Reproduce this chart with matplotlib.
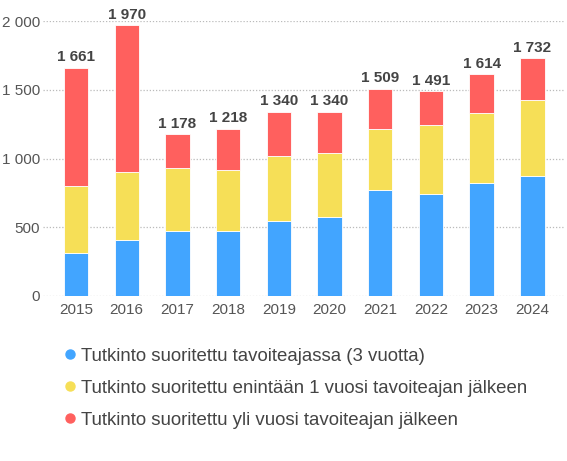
import matplotlib
matplotlib.use("Agg")
import matplotlib.pyplot as plt
from matplotlib.lines import Line2D
import numpy as np

plt.rcParams['font.family'] = ['Liberation Sans', 'DejaVu Sans']

years = ["2015", "2016", "2017", "2018", "2019", "2020", "2021", "2022", "2023", "2024"]
on_time = [315, 407, 475, 470, 548, 575, 773, 740, 822, 873]
within_1y = [487, 497, 456, 444, 473, 463, 442, 501, 510, 555]
over_1y = [859, 1066, 247, 304, 319, 302, 294, 250, 282, 304]
totals = [1661, 1970, 1178, 1218, 1340, 1340, 1509, 1491, 1614, 1732]

labels = [
    "Tutkinto suoritettu tavoiteajassa (3 vuotta)",
    "Tutkinto suoritettu enintään 1 vuosi tavoiteajan jälkeen",
    "Tutkinto suoritettu yli vuosi tavoiteajan jälkeen",
]
colors = ["#42a5ff", "#f6df57", "#ff605e"]


def fmt(v):
    return f"{v:,}".replace(",", " ")


fig = plt.figure(figsize=(5.67, 4.61), dpi=100)
ax = fig.add_axes([0.076, 0.358, 0.921, 0.596])

x = np.arange(len(years))
w = 0.48
bottom = np.zeros(len(years))
for vals, c in zip([on_time, within_1y, over_1y], colors):
    ax.bar(x, vals, w, bottom=bottom, color=c, edgecolor="white", linewidth=0.6, zorder=3)
    bottom += np.array(vals)

for xi, t in zip(x, totals):
    ax.text(xi, t + 25, fmt(t), ha="center", va="bottom", fontsize=11,
            fontweight="bold", color="#444444")

ax.set_xlim(-0.65, 9.65)
ax.set_ylim(0, 2000)
ax.set_yticks([0, 500, 1000, 1500, 2000])
ax.set_yticklabels([fmt(v) for v in [0, 500, 1000, 1500, 2000]])
ax.set_xticks(x)
ax.set_xticklabels(years)
ax.tick_params(axis="both", length=0, labelsize=11, colors="#555555")
ax.tick_params(axis="x", pad=5)
ax.tick_params(axis="y", pad=2)
ax.grid(axis="y", linestyle=(0, (1, 1.5)), color="#bbbbbb", linewidth=0.9, zorder=0)
for s in ax.spines.values():
    s.set_visible(False)

handles = [Line2D([], [], marker="o", linestyle="", markersize=6.5, color=c) for c in colors]
fig.legend(handles, labels, loc="upper left", bbox_to_anchor=(0.097, 0.262),
           frameon=False, fontsize=13.4, labelcolor="#444444", handletextpad=0.2,
           labelspacing=0.8, handlelength=0.8, borderaxespad=0)

fig.savefig("out.png", dpi=100)
